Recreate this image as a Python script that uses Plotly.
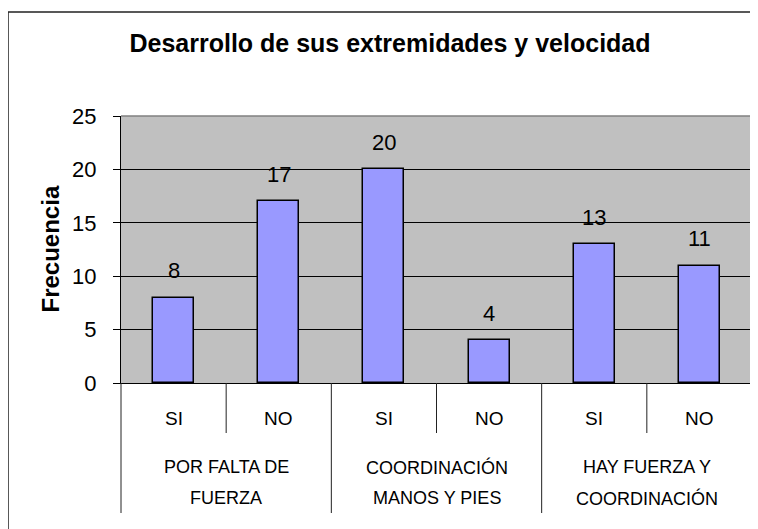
import plotly.graph_objects as go

# ---- data ----
title_text = "Desarrollo de sus extremidades y velocidad"
y_title = "Frecuencia"
sub_labels = ["SI", "NO", "SI", "NO", "SI", "NO"]
group_labels = ["POR FALTA DE<br>FUERZA", "COORDINACIÓN<br>MANOS Y PIES", "HAY FUERZA Y<br>COORDINACIÓN"]
group_sizes = [2, 2, 2]
values = [8, 17, 20, 4, 13, 11]
y_ticks = [0, 5, 10, 15, 20, 25]

# ---- layout constants ----
OFF = 8  # default page body margin of the browser
W, H = 758 - OFF, 529 - OFF
ML, MR, MT, MB = 121 - OFF, 6, 116 - OFF, 146
FONT = "Liberation Sans, Arial, sans-serif"

n = len(values)
xs = list(range(n))

fig = go.Figure()
fig.add_trace(go.Bar(
    x=xs, y=values, width=0.39,
    marker=dict(color="#9999FF", line=dict(color="#000000", width=1.5)),
    hoverinfo="skip",
))

annotations = []
shapes = []

# data labels
for x, v in zip(xs, values):
    annotations.append(dict(x=x, y=v, xref="x", yref="y", text=str(v), showarrow=False,
                            yanchor="middle", yshift=27,
                            font=dict(family=FONT, size=22, color="#000")))

# sub labels
for x, lab in zip(xs, sub_labels):
    annotations.append(dict(x=x, y=0, xref="x", yref="y", text=lab, showarrow=False,
                            yanchor="middle", yshift=-35,
                            font=dict(family=FONT, size=19, color="#000")))


def dom(xb):
    return (xb + 0.5) / n


# group labels and dividers
start = 0
for g, size in zip(group_labels, group_sizes):
    center = start + (size - 1) / 2
    for k, line in enumerate(g.split("<br>")):
        annotations.append(dict(x=center, y=0, xref="x", yref="y", text=line, showarrow=False,
                                yanchor="middle", yshift=-84 - 31 * k,
                                font=dict(family=FONT, size=18, color="#000")))
    for j in range(1, size):
        xb = start + j - 0.5
        shapes.append(dict(type="line", xref="x domain", yref="y domain",
                           x0=dom(xb), x1=dom(xb),
                           ysizemode="pixel", yanchor=0, y0=0, y1=-50,
                           line=dict(color="#222", width=1)))
    start += size

bounds = [-0.5]
acc = -0.5
for size in group_sizes:
    acc += size
    bounds.append(acc)
for xb in bounds:
    shapes.append(dict(type="line", xref="x domain", yref="y domain",
                       x0=dom(xb), x1=dom(xb),
                       ysizemode="pixel", yanchor=0, y0=0, y1=-130,
                       line=dict(color="#222", width=1)))

# plot area top/right border (gray)
shapes.append(dict(type="line", xref="x domain", yref="y domain", x0=0, x1=1, y0=1, y1=1,
                   line=dict(color="#808080", width=1.5)))
shapes.append(dict(type="line", xref="x domain", yref="y domain", x0=1, x1=1, y0=0, y1=1,
                   line=dict(color="#808080", width=1.5)))

# outer chart frame (cut off on right and bottom)
shapes.append(dict(type="rect", xref="paper", yref="paper",
                   xsizemode="pixel", ysizemode="pixel",
                   xanchor=0, yanchor=1,
                   x0=-(121 - 8), x1=700, y0=116 - 12, y1=-600,
                   line=dict(color="#222", width=1.5), fillcolor="rgba(0,0,0,0)"))

# y axis title
annotations.append(dict(x=0, y=0.5, xref="paper", yref="paper", text="<b>" + y_title + "</b>",
                        textangle=-90, showarrow=False, xanchor="center", yanchor="middle",
                        xshift=-(121 - 50), font=dict(family=FONT, size=24, color="#000")))

fig.update_layout(
    width=W, height=H,
    margin=dict(l=ML, r=MR, t=MT, b=MB, pad=0),
    paper_bgcolor="#FFFFFF",
    plot_bgcolor="#C0C0C0",
    showlegend=False,
    title=dict(text="<b>" + title_text + "</b>", x=(390 - OFF) / W, xref="container",
               xanchor="center", y=1 - (43 - OFF) / H, yref="container", yanchor="middle",
               font=dict(family=FONT, size=25, color="#000")),
    xaxis=dict(range=[-0.5, n - 0.5], showticklabels=False, showgrid=False,
               zeroline=False, showline=True, linecolor="#000", linewidth=1, ticks="",
               fixedrange=True),
    yaxis=dict(range=[0, 25], tickvals=y_ticks, showgrid=True, gridcolor="#000", gridwidth=1,
               zeroline=False, showline=True, linecolor="#000", linewidth=1,
               ticks="outside", ticklen=7, tickcolor="#000", ticklabelstandoff=12,
               tickfont=dict(family=FONT, size=22, color="#000"), fixedrange=True),
    annotations=annotations,
    shapes=shapes,
    bargap=0,
)

fig.write_html("out.html")
